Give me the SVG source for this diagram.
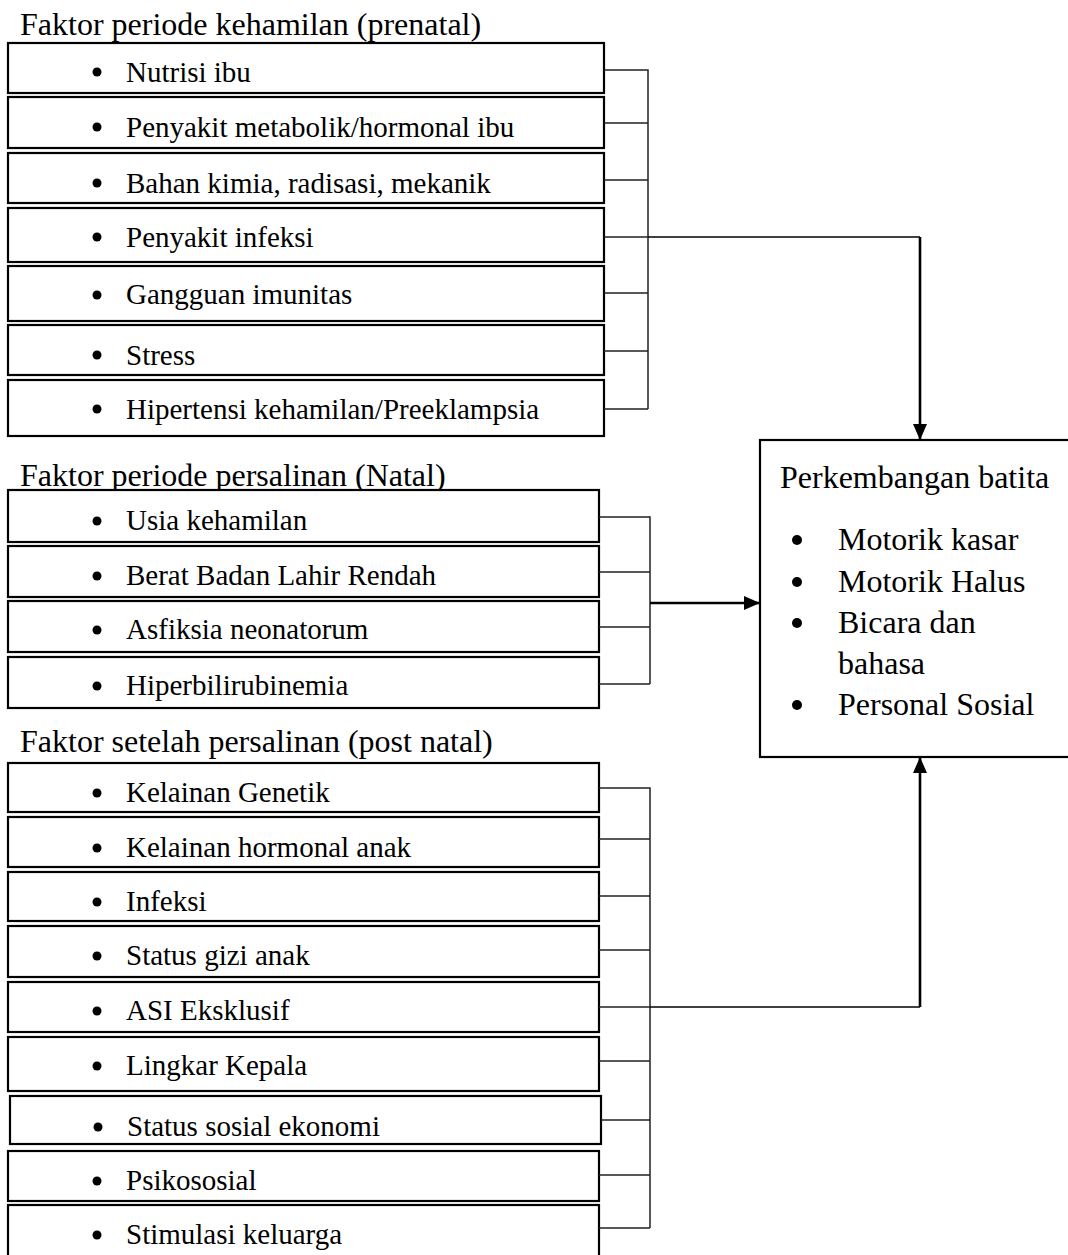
<svg xmlns="http://www.w3.org/2000/svg" width="1068" height="1255" viewBox="0 0 1068 1255">
<style>
.box{fill:#fff;stroke:#000;stroke-width:2.2}
.t{font-family:"Liberation Serif","Times New Roman",serif;font-size:29px;fill:#000}
.h{font-family:"Liberation Serif","Times New Roman",serif;font-size:32px;fill:#000}
.b{fill:#000}
.c{fill:none;stroke:#222;stroke-width:1.5}
.a{fill:none;stroke:#000;stroke-width:2.6}
.l{fill:none;stroke:#000;stroke-width:1.5}
</style>
<defs>
<marker id="ah" viewBox="0 0 16 14" refX="16" refY="7" markerWidth="16" markerHeight="14" markerUnits="userSpaceOnUse" orient="auto">
<path d="M0,0 L16,7 L0,14 Z" fill="#000"/>
</marker>
</defs>
<rect width="1068" height="1255" fill="#fff"/>

<text class="h" x="20" y="35">Faktor periode kehamilan (prenatal)</text>
<text class="h" x="20" y="486">Faktor periode persalinan (Natal)</text>
<text class="h" x="20" y="752">Faktor setelah persalinan (post natal)</text>

<g id="n1"><rect class="box" x="8" y="43" width="596" height="50"/><circle class="b" cx="97" cy="72" r="4.5"/><text class="t" x="126" y="82">Nutrisi ibu</text></g>
<g id="n2"><rect class="box" x="8" y="97" width="596" height="51"/><circle class="b" cx="97" cy="127" r="4.5"/><text class="t" x="126" y="137">Penyakit metabolik/hormonal ibu</text></g>
<g id="n3"><rect class="box" x="8" y="153" width="596" height="50"/><circle class="b" cx="97" cy="183" r="4.5"/><text class="t" x="126" y="193">Bahan kimia, radisasi, mekanik</text></g>
<g id="n4"><rect class="box" x="8" y="208" width="596" height="54"/><circle class="b" cx="97" cy="237" r="4.5"/><text class="t" x="126" y="247">Penyakit infeksi</text></g>
<g id="n5"><rect class="box" x="8" y="266" width="596" height="55"/><circle class="b" cx="97" cy="295" r="4.5"/><text class="t" x="126" y="304">Gangguan imunitas</text></g>
<g id="n6"><rect class="box" x="8" y="325" width="596" height="50"/><circle class="b" cx="97" cy="355" r="4.5"/><text class="t" x="126" y="365">Stress</text></g>
<g id="n7"><rect class="box" x="8" y="380" width="596" height="56"/><circle class="b" cx="97" cy="409" r="4.5"/><text class="t" x="126" y="419">Hipertensi kehamilan/Preeklampsia</text></g>

<g id="m1"><rect class="box" x="8" y="490" width="591" height="52"/><circle class="b" cx="97" cy="521" r="4.5"/><text class="t" x="126" y="530">Usia kehamilan</text></g>
<g id="m2"><rect class="box" x="8" y="546" width="591" height="51"/><circle class="b" cx="97" cy="576" r="4.5"/><text class="t" x="126" y="585">Berat Badan Lahir Rendah</text></g>
<g id="m3"><rect class="box" x="8" y="601" width="591" height="51"/><circle class="b" cx="97" cy="630" r="4.5"/><text class="t" x="126" y="639">Asfiksia neonatorum</text></g>
<g id="m4"><rect class="box" x="8" y="657" width="591" height="51"/><circle class="b" cx="97" cy="686" r="4.5"/><text class="t" x="126" y="695">Hiperbilirubinemia</text></g>

<g id="p1"><rect class="box" x="8" y="763" width="591" height="49"/><circle class="b" cx="97" cy="793" r="4.5"/><text class="t" x="126" y="802">Kelainan Genetik</text></g>
<g id="p2"><rect class="box" x="8" y="817" width="591" height="50"/><circle class="b" cx="97" cy="848" r="4.5"/><text class="t" x="126" y="857">Kelainan hormonal anak</text></g>
<g id="p3"><rect class="box" x="8" y="872" width="591" height="49"/><circle class="b" cx="97" cy="902" r="4.5"/><text class="t" x="126" y="911">Infeksi</text></g>
<g id="p4"><rect class="box" x="8" y="926" width="591" height="51"/><circle class="b" cx="97" cy="956" r="4.5"/><text class="t" x="126" y="965">Status gizi anak</text></g>
<g id="p5"><rect class="box" x="8" y="982" width="591" height="50"/><circle class="b" cx="97" cy="1011" r="4.5"/><text class="t" x="126" y="1020">ASI Eksklusif</text></g>
<g id="p6"><rect class="box" x="8" y="1037" width="591" height="54"/><circle class="b" cx="97" cy="1066" r="4.5"/><text class="t" x="126" y="1075">Lingkar Kepala</text></g>
<g id="p7"><rect class="box" x="10" y="1096" width="591" height="48"/><circle class="b" cx="98" cy="1127" r="4.5"/><text class="t" x="127" y="1136">Status sosial ekonomi</text></g>
<g id="p8"><rect class="box" x="8" y="1151" width="591" height="50"/><circle class="b" cx="97" cy="1181" r="4.5"/><text class="t" x="126" y="1190">Psikososial</text></g>
<g id="p9"><rect class="box" x="8" y="1205" width="591" height="56"/><circle class="b" cx="97" cy="1235" r="4.5"/><text class="t" x="126" y="1244">Stimulasi keluarga</text></g>

<g id="out"><rect class="box" x="760" y="440" width="320" height="317"/>
<text class="h" x="780" y="488">Perkembangan batita</text>
<circle class="b" cx="797" cy="540" r="5"/><text class="h" x="838" y="550">Motorik kasar</text>
<circle class="b" cx="797" cy="582" r="5"/><text class="h" x="838" y="592">Motorik Halus</text>
<circle class="b" cx="797" cy="623" r="5"/><text class="h" x="838" y="633">Bicara dan</text>
<text class="h" x="838" y="674">bahasa</text>
<circle class="b" cx="797" cy="705" r="5"/><text class="h" x="838" y="715">Personal Sosial</text>
</g>

<g id="connectors">
<path class="c" d="M604,70 H648 V409 M604,123 H648 M604,180 H648 M604,237 H648 M604,293 H648 M604,351 H648 M604,409 H648"/>
<path class="l" d="M648,237 H920"/>
<path class="a" d="M920,237 V440" marker-end="url(#ah)"/>
<path class="c" d="M599,517 H650 V684 M599,572 H650 M599,627 H650 M599,684 H650"/>
<path class="a" d="M650,603 H760" marker-end="url(#ah)"/>
<path class="c" d="M599,788 H650 V1228 M599,839 H650 M599,896 H650 M599,950 H650 M599,1007 H650 M599,1061 H650 M601,1120 H650 M599,1175 H650 M599,1228 H650"/>
<path class="l" d="M650,1007 H920"/>
<path class="a" d="M920,1007 V757" marker-end="url(#ah)"/>
</g>
</svg>
